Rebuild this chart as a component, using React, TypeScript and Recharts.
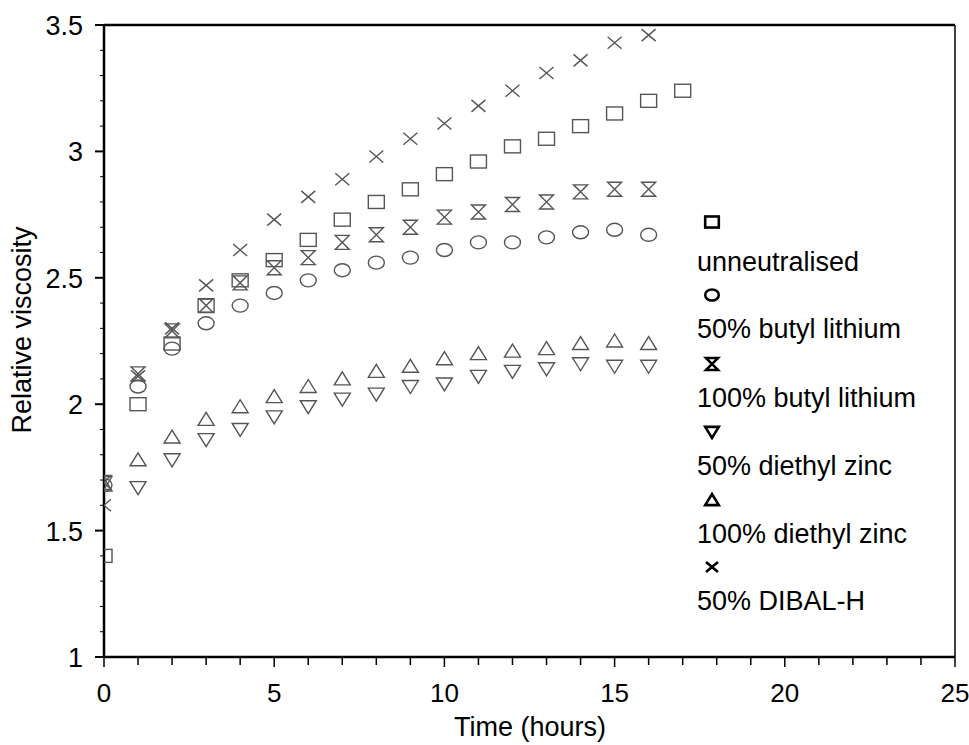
import { ScatterChart, Scatter, XAxis, YAxis, ReferenceLine } from 'recharts'

// time in hours
const hours = [0, 1, 2, 3, 4, 5, 6, 7, 8, 9, 10, 11, 12, 13, 14, 15, 16, 17]

const unneutralised = [1.4, 2.0, 2.24, 2.39, 2.49, 2.57, 2.65, 2.73, 2.8, 2.85, 2.91, 2.96, 3.02, 3.05, 3.1, 3.15, 3.2, 3.24]
const butylLithium50 = [1.68, 2.07, 2.22, 2.32, 2.39, 2.44, 2.49, 2.53, 2.56, 2.58, 2.61, 2.64, 2.64, 2.66, 2.68, 2.69, 2.67]
const butylLithium100 = [1.69, 2.12, 2.29, 2.39, 2.48, 2.54, 2.58, 2.64, 2.67, 2.7, 2.74, 2.76, 2.79, 2.8, 2.84, 2.85, 2.85]
const diethylZinc50 = [1.69, 1.67, 1.78, 1.86, 1.9, 1.95, 1.99, 2.02, 2.04, 2.07, 2.08, 2.11, 2.13, 2.14, 2.16, 2.15, 2.15]
const diethylZinc100 = [1.68, 1.78, 1.87, 1.94, 1.99, 2.03, 2.07, 2.1, 2.13, 2.15, 2.18, 2.2, 2.21, 2.22, 2.24, 2.25, 2.24]
const dibalH50 = [1.6, 2.11, 2.3, 2.47, 2.61, 2.73, 2.82, 2.89, 2.98, 3.05, 3.11, 3.18, 3.24, 3.31, 3.36, 3.43, 3.46]

const xTicks = [0, 1, 2, 3, 4, 5, 6, 7, 8, 9, 10, 11, 12, 13, 14, 15, 16, 17, 18, 19, 20, 21, 22, 23, 24, 25]
const yTicks = [1, 1.1, 1.2, 1.3, 1.4, 1.5, 1.6, 1.7, 1.8, 1.9, 2, 2.1, 2.2, 2.3, 2.4, 2.5, 2.6, 2.7, 2.8, 2.9, 3, 3.1, 3.2, 3.3, 3.4, 3.5]

type Kind = 'square' | 'circle' | 'bowtie' | 'down' | 'up' | 'cross'

const series: { name: string; kind: Kind; values: number[] }[] = [
  { name: 'unneutralised', kind: 'square', values: unneutralised },
  { name: '50% butyl lithium', kind: 'circle', values: butylLithium50 },
  { name: '100% butyl lithium', kind: 'bowtie', values: butylLithium100 },
  { name: '50% diethyl zinc', kind: 'down', values: diethylZinc50 },
  { name: '100% diethyl zinc', kind: 'up', values: diethylZinc100 },
  { name: '50% DIBAL-H', kind: 'cross', values: dibalH50 },
]

const FONT = '"Liberation Sans", Arial, sans-serif'

function Marker({ kind, cx, cy, k = 1, color = '#555', sw = 1.4 }: { kind: Kind; cx: number; cy: number; k?: number; color?: string; sw?: number }) {
  const p = { fill: 'none', stroke: color, strokeWidth: sw }
  switch (kind) {
    case 'square':
      return <rect x={cx - 8 * k} y={cy - 6.5 * k} width={16 * k} height={13 * k} {...p} />
    case 'circle':
      return <ellipse cx={cx} cy={cy} rx={8 * k} ry={6.5 * k} {...p} />
    case 'bowtie':
      return <path d={`M${cx - 7 * k},${cy - 7 * k}L${cx + 7 * k},${cy - 7 * k}L${cx - 7 * k},${cy + 7 * k}L${cx + 7 * k},${cy + 7 * k}Z`} {...p} />
    case 'down':
      return <path d={`M${cx - 8 * k},${cy - 6 * k}L${cx + 8 * k},${cy - 6 * k}L${cx},${cy + 7 * k}Z`} {...p} />
    case 'up':
      return <path d={`M${cx - 8 * k},${cy + 6 * k}L${cx + 8 * k},${cy + 6 * k}L${cx},${cy - 7 * k}Z`} {...p} />
    default:
      return <path d={`M${cx - 7 * k},${cy - 6 * k}L${cx + 7 * k},${cy + 6 * k}M${cx - 7 * k},${cy + 6 * k}L${cx + 7 * k},${cy - 6 * k}`} {...p} />
  }
}

function XTick({ x, y, payload }: any) {
  const v = payload.value
  const major = v % 5 === 0
  return (
    <g>
      <line x1={x} x2={x} y1={y} y2={y + (major ? 10 : 8)} stroke="#000" strokeWidth={1.5} />
      {major && (
        <text x={x} y={y + 45} textAnchor="middle" fontSize={26} fontFamily={FONT} fill="#000">
          {v}
        </text>
      )}
    </g>
  )
}

function YTick({ x, y, payload }: any) {
  const v = payload.value
  const major = Math.abs(v * 2 - Math.round(v * 2)) < 1e-6
  return (
    <g>
      <line x1={x - (major ? 9 : 4)} x2={x} y1={y} y2={y} stroke="#000" strokeWidth={major ? 2 : 1} />
      {major && (
        <text x={x - 21} y={y + 10} textAnchor="end" fontSize={27} fontFamily={FONT} fill="#000">
          {v}
        </text>
      )}
    </g>
  )
}

const legendSymbolY = [222, 295, 364, 432, 500, 567]
const legendTextY = [262, 329, 398, 466, 534, 601]

export default function App() {
  // body margin removed so coordinates below are page coordinates
  return (
    <div style={{ position: 'relative', width: 969, height: 745, fontFamily: FONT }}>
      <style>{'body{margin:0}'}</style>
      <ScatterChart width={969} height={745} margin={{ top: 25, right: 14, bottom: 28, left: 24 }}>
        <XAxis
          type="number"
          dataKey="t"
          domain={[0, 25]}
          ticks={xTicks}
          interval={0}
          height={60}
          tickSize={0}
          tickMargin={0}
          tickLine={false}
          tick={<XTick />}
          axisLine={{ stroke: '#000', strokeWidth: 2.5 }}
          allowDataOverflow
        />
        <YAxis
          type="number"
          dataKey="v"
          domain={[1, 3.5]}
          ticks={yTicks}
          interval={0}
          width={80}
          tickSize={0}
          tickMargin={0}
          tickLine={false}
          tick={<YTick />}
          axisLine={{ stroke: '#000', strokeWidth: 2.5 }}
          allowDataOverflow
        />
        <ReferenceLine y={3.5} stroke="#000" strokeWidth={2.5} />
        <ReferenceLine x={25} stroke="#000" strokeWidth={1.5} />
        {series.map(s => (
          <Scatter
            key={s.name}
            name={s.name}
            data={s.values.map((v, i) => ({ t: hours[i], v }))}
            isAnimationActive={false}
            shape={(props: any) => <Marker kind={s.kind} cx={props.cx} cy={props.cy} />}
          />
        ))}
      </ScatterChart>

      {/* axis titles */}
      <div style={{ position: 'absolute', left: 530, top: 727, transform: 'translate(-50%, -50%)', fontSize: 27, whiteSpace: 'nowrap' }}>
        Time (hours)
      </div>
      <div style={{ position: 'absolute', left: 22, top: 330, transform: 'translate(-50%, -50%) rotate(-90deg)', fontSize: 27, whiteSpace: 'nowrap' }}>
        Relative viscosity
      </div>

      {/* legend */}
      <svg style={{ position: 'absolute', left: 0, top: 0, pointerEvents: 'none' }} width={969} height={745}>
        {series.map((s, i) => (
          <g key={s.name}>
            <Marker kind={s.kind} cx={712} cy={legendSymbolY[i]} k={0.85} color="#000" sw={2.6} />
            <text x={697} y={legendTextY[i] + 9} fontSize={27} fontFamily={FONT} fill="#000">
              {s.name}
            </text>
          </g>
        ))}
      </svg>
    </div>
  )
}
